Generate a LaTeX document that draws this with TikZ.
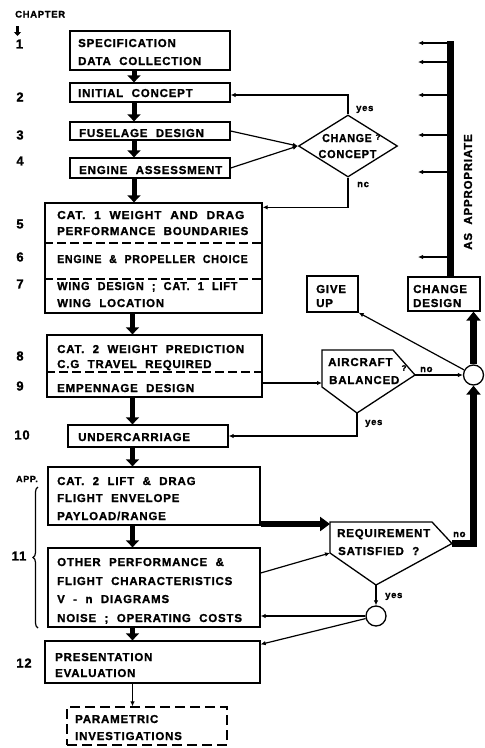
\documentclass[tikz,border=0pt]{standalone}
\usepackage{fontspec}
\setmainfont{Liberation Sans}[LetterSpace=7,WordSpace=2.1,BoldFeatures={FakeBold=1.3}]
\usetikzlibrary{arrows.meta,shapes.geometric,decorations.pathreplacing}
\begin{document}
\begin{tikzpicture}[x=1pt,y=-1pt,
  font=\fontsize{11.5}{11.5}\selectfont\bfseries,
  box/.style={draw,line width=1.3pt,inner sep=0pt},
  lbl/.style={anchor=base west,inner sep=0pt},
  clbl/.style={anchor=base,inner sep=0pt},
  num/.style={inner sep=0pt,font=\fontsize{13}{13}\selectfont\bfseries},
  tag/.style={anchor=base west,inner sep=0pt,font=\fontsize{9.5}{9.5}\selectfont\bfseries},
  qmark/.style={inner sep=0pt,font=\fontsize{8}{8}\selectfont\bfseries},
  thin/.style={line width=1.2pt,-{Latex[length=5pt,width=4.5pt]}},
  flow/.style={line width=5pt,-{Triangle[length=7pt,width=13pt]}},
  heavy/.style={line width=6.5pt},
  heavyarrow/.style={line width=6.5pt,-{Triangle[length=9pt,width=14pt]}},
  sep/.style={line width=1.2pt,dash pattern=on 9pt off 4pt},
  outline/.style={line width=1.3pt,line join=miter},
]
\useasboundingbox (0,0) rectangle (485,748);

% ---- chapter column ----
\node[anchor=base west,inner sep=0pt,font=\fontsize{9.5}{9.5}\selectfont\bfseries] (chap) at (15,17.5) {CHAPTER};
\coordinate (chapA) at (17.5,26);
\coordinate (chapB) at (17.5,36);
\draw[line width=2.6pt,-{Triangle[length=4pt,width=7pt]}] (chapA) -- (chapB);
\node[num] (n1) at (19.5,44) {1};
\node[num] (n2) at (20,97) {2};
\node[num] (n3) at (20,135) {3};
\node[num] (n4) at (20,161) {4};
\node[num] (n5) at (20,224) {5};
\node[num] (n6) at (20,257) {6};
\node[num] (n7) at (20,284) {7};
\node[num] (n8) at (20,356) {8};
\node[num] (n9) at (20,386) {9};
\node[num] (n10) at (22,435) {10};
\node[anchor=center,inner sep=0pt,font=\fontsize{9}{9}\selectfont\bfseries] (napp) at (27,479) {APP.};
\node[num] (n11) at (19,556) {11};
\node[num] (n12) at (24,663) {12};
\draw[line width=1.2pt,decorate,decoration={brace,amplitude=5pt}] (38,628) -- (38,487);

% ---- main column of boxes ----
\node[box,minimum width=160pt,minimum height=39pt] (b1) at (150,50.5) {};
\node[lbl] (t1a) at (78,47) {SPECIFICATION};
\node[lbl] (t1b) at (78,65) {DATA COLLECTION};

\node[box,minimum width=160pt,minimum height=19pt] (b2) at (150,92.5) {};
\node[lbl] (t2) at (78,97) {INITIAL CONCEPT};

\node[box,minimum width=160pt,minimum height=18pt] (b3) at (150,131) {};
\node[lbl] (t3) at (79,137) {FUSELAGE DESIGN};

\node[box,minimum width=160pt,minimum height=20pt] (b4) at (150,168) {};
\node[lbl] (t4) at (79,174) {ENGINE ASSESSMENT};

\node[box,minimum width=217pt,minimum height=110pt] (b5) at (153.5,258) {};
\draw[sep] (b5.west |- 0,243) -- (b5.east |- 0,243);
\draw[sep] (b5.west |- 0,279) -- (b5.east |- 0,279);
\node[lbl] (t5a) at (57,219) {\scalebox{1.04}[1]{CAT. 1 WEIGHT AND DRAG}};
\node[lbl] (t5b) at (57,235) {PERFORMANCE BOUNDARIES};
\node[lbl] (t6) at (57,263) {\scalebox{0.92}[1]{ENGINE \& PROPELLER CHOICE}};
\node[lbl] (t7a) at (57,290) {\scalebox{0.96}[1]{WING DESIGN ; CAT. 1 LIFT}};
\node[lbl] (t7b) at (57,307) {WING LOCATION};

\node[box,minimum width=215pt,minimum height=62pt] (b8) at (154.5,366) {};
\draw[sep] (b8.west |- 0,372) -- (b8.east |- 0,372);
\node[lbl] (t8a) at (57,353) {CAT. 2 WEIGHT PREDICTION};
\node[lbl] (t8b) at (57,368) {C.G TRAVEL REQUIRED};
\node[lbl] (t9) at (57,392) {EMPENNAGE DESIGN};

\node[box,minimum width=160pt,minimum height=22pt] (b10) at (148,436) {};
\node[lbl] (t10) at (78,441) {UNDERCARRIAGE};

\node[box,minimum width=212pt,minimum height=58pt] (b11a) at (154,496) {};
\node[lbl] (t11a) at (57,485) {CAT. 2 LIFT \& DRAG};
\node[lbl] (t11b) at (57,502) {FLIGHT ENVELOPE};
\node[lbl] (t11c) at (57,520) {PAYLOAD/RANGE};

\node[box,minimum width=212pt,minimum height=79pt] (b11b) at (154,587.5) {};
\node[lbl] (t11d) at (57,566) {OTHER PERFORMANCE \&};
\node[lbl] (t11e) at (57,585) {FLIGHT CHARACTERISTICS};
\node[lbl] (t11f) at (57,603) {V - n DIAGRAMS};
\node[lbl] (t11g) at (57,622) {NOISE ; OPERATING COSTS};

\node[box,minimum width=215pt,minimum height=42pt] (b12) at (152.5,662) {};
\node[lbl] (t12a) at (55,661) {PRESENTATION};
\node[lbl] (t12b) at (55,677) {EVALUATION};

\node[box,dash pattern=on 10pt off 5pt,minimum width=160pt,minimum height=38pt] (bpar) at (147,726) {};
\node[lbl] (tpa) at (75,723) {PARAMETRIC};
\node[lbl] (tpb) at (75,740) {INVESTIGATIONS};

% ---- main flow arrows ----
\coordinate (ax) at (134,0);
\coordinate (bx) at (132.5,0);
\draw[flow] (b1.south -| ax) -- (b2.north -| ax);
\draw[flow] (b2.south -| ax) -- (b3.north -| ax);
\draw[flow] (b3.south -| ax) -- (b4.north -| ax);
\draw[flow] (b4.south -| ax) -- (b5.north -| ax);
\draw[flow] (b5.south -| bx) -- (b8.north -| bx);
\draw[flow] (b8.south -| bx) -- (b10.north -| bx);
\draw[flow] (b10.south -| bx) -- (b11a.north -| bx);
\draw[flow] (b11a.south -| bx) -- (b11b.north -| bx);
\draw[flow] (b11b.south -| bx) -- (b12.north -| bx);
\draw[thin] (b12.south -| bx) -- (bpar.north -| bx);

% ---- change concept decision ----
\node[diamond,draw,outline,minimum width=99pt,minimum height=62pt,inner sep=0pt] (cc) at (348,146) {};
\node[clbl] (tcca) at (347,142) {\scalebox{0.92}[1]{CHANGE}};
\node[clbl] (tccb) at (347.5,158) {\scalebox{0.95}[1]{CONCEPT}};
\node[qmark] (qcc) at (378,137) {?};
\draw[thin] (b3.east) -- (cc.west);
\draw[thin] (b4.east) -- (cc.west);
\draw[thin] (cc.north) |- ([yshift=-2.5pt]b2.east);
\draw[thin] (cc.south) |- ([yshift=-5pt]b5.north east);
\node[tag] (yes1) at (356,111) {yes};
\node[tag] (nc1) at (357,187) {nc};

% ---- aircraft balanced decision ----
\coordinate (abtl) at (322,350);
\coordinate (abtr) at (393,350);
\coordinate (abr) at (415,375);
\coordinate (abb) at (357,413);
\coordinate (abbl) at (322,387);
\coordinate (abin) at (322,383);
\draw[outline] (abtl) -- (abtr) -- (abr) -- (abb) -- (abbl) -- cycle;
\node[lbl] (tab1) at (328,366) {AIRCRAFT};
\node[lbl] (tab2) at (329,384) {BALANCED};
\node[qmark] (qab) at (404,368) {?};
\draw[thin] (b8.east |- abin) -- (abin);
\draw[thin] (abb) |- (b10.east);
\node[tag] (yes2) at (365,425) {yes};

% ---- right-hand loop ----
\node[circle,draw,line width=1.3pt,minimum size=20pt,inner sep=0pt] (c1) at (473.5,375) {};
\draw[thin] (abr) -- (c1.west);
\node[tag] (no1) at (420,372) {no};

\node[box,minimum width=51pt,minimum height=36pt] (gu) at (332.5,294) {};
\node[lbl] (tgu1) at (316,293) {GIVE};
\node[lbl] (tgu2) at (316,307) {UP};
\draw[thin] (c1) -- (gu.south east);

\node[box,minimum width=72pt,minimum height=34pt] (cd) at (444,294) {};
\node[lbl] (tcd1) at (413,293) {CHANGE};
\node[lbl] (tcd2) at (413,307) {DESIGN};
\draw[heavyarrow] (c1.north) -- (c1.north |- cd.south);

\coordinate (bartop) at (450.5,41);
\draw[heavy] (cd.north -| bartop) -- (bartop);
\foreach \yy [count=\i] in {43,62,95,135,172,257}{
  \coordinate (out\i) at (418,\yy);
  \draw[thin] (out\i -| bartop) -- (out\i);
}
\node[rotate=90,inner sep=0pt] (asap) at (468,192) {AS APPROPRIATE};

% ---- requirement satisfied decision ----
\coordinate (rqtl) at (330,522);
\coordinate (rqtr) at (432,522);
\coordinate (rqr) at (452,543.5);
\coordinate (rqb) at (376,585);
\coordinate (rqbl) at (330,553);
\coordinate (rqin) at (330,524);
\draw[outline] (rqtl) -- (rqtr) -- (rqr) -- (rqb) -- (rqbl) -- cycle;
\node[lbl] (trq1) at (337,537) {REQUIREMENT};
\node[lbl] (trq2) at (338,555) {SATISFIED ?};
\draw[line width=6pt,-{Triangle[length=10pt,width=14pt]}] (b11a.east |- rqin) -- (rqin);
\draw[thin] ([yshift=14.5pt]b11b.east) -- (rqbl);
\draw[heavyarrow,line join=miter] (rqr) -| (c1.south);
\node[tag] (no2) at (453,537) {no};

\node[circle,draw,line width=1.3pt,minimum size=20pt,inner sep=0pt] (c2) at (376,616) {};
\draw[thin] (rqb) -- (c2.north);
\node[tag] (yes3) at (385,598) {yes};
\draw[thin] (c2.west) -- (c2.west -| b11b.east);
\draw[thin] (c2) -- ([yshift=-4pt]b12.north east);
\end{tikzpicture}
\end{document}
